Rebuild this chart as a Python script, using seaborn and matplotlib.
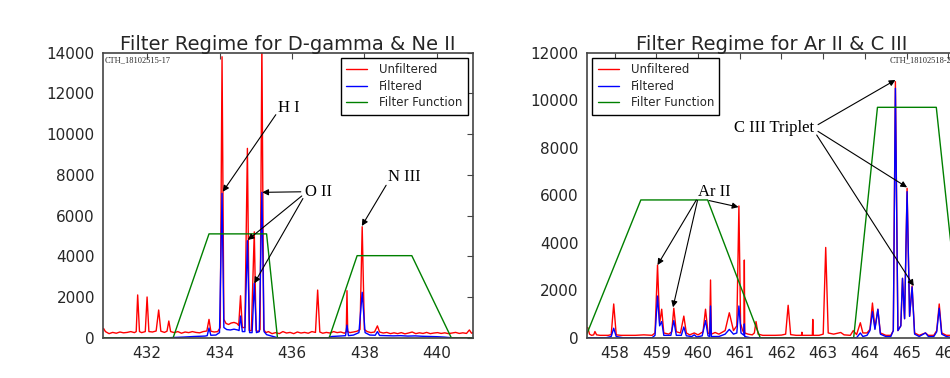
import matplotlib
matplotlib.use("Agg")
import matplotlib.pyplot as plt
import seaborn as sns

# ---------------- data ----------------
# Left panel: D-gamma & Ne II
left_unf_x = [430.80, 430.85, 430.95, 431.05, 431.15, 431.25, 431.35, 431.45, 431.55, 431.65,
              431.70, 431.74, 431.79, 431.85, 431.95, 432.00, 432.05, 432.15, 432.25, 432.32,
              432.38, 432.48, 432.55, 432.60, 432.65, 432.75, 432.85, 432.95, 433.05, 433.15,
              433.25, 433.35, 433.45, 433.55, 433.65, 433.71, 433.76, 433.85, 433.95, 434.02,
              434.07, 434.12, 434.18, 434.25, 434.32, 434.40, 434.48, 434.53, 434.58, 434.63,
              434.70, 434.77, 434.82, 434.88, 434.96, 435.01, 435.07, 435.12, 435.17, 435.22,
              435.28, 435.35, 435.45, 435.55, 435.65, 435.75, 435.85, 435.95, 436.05, 436.15,
              436.25, 436.35, 436.45, 436.55, 436.65, 436.71, 436.77, 436.85, 436.95, 437.05,
              437.15, 437.25, 437.35, 437.45, 437.50, 437.52, 437.54, 437.60, 437.70, 437.80,
              437.88, 437.94, 438.00, 438.08, 438.18, 438.28, 438.36, 438.42, 438.52, 438.62,
              438.72, 438.82, 438.92, 439.02, 439.12, 439.22, 439.32, 439.42, 439.52, 439.62,
              439.72, 439.82, 439.92, 440.02, 440.12, 440.22, 440.32, 440.42, 440.52, 440.62,
              440.72, 440.82, 440.90, 440.96, 441.00]
left_unf_y = [450, 300, 200, 260, 220, 280, 240, 260, 300, 250,
              300, 2100, 300, 250, 300, 2000, 300, 280, 330, 1360,
              320, 260, 320, 820, 300, 250, 300, 220, 280, 250,
              300, 260, 240, 300, 330, 900, 320, 280, 300, 500,
              13800, 900, 700, 650, 720, 750, 700, 600, 2060, 500,
              500, 9300, 350, 350, 5200, 350, 300, 400, 14500, 400,
              250, 300, 200, 250, 200, 300, 230, 260, 200, 280,
              230, 260, 220, 300, 260, 2340, 280, 220, 260, 230,
              300, 250, 280, 220, 300, 2310, 300, 250, 280, 320,
              400, 5450, 400, 300, 250, 280, 580, 280, 230, 260,
              200, 240, 200, 250, 190, 230, 280, 200, 240, 210,
              260, 200, 230, 250, 210, 240, 200, 230, 260, 210,
              240, 210, 380, 220, 250]

left_filt_x = [430.80, 432.60, 433.00, 433.30, 433.60, 433.66, 433.71, 433.76, 433.90, 434.00,
               434.07, 434.12, 434.20, 434.30, 434.40, 434.50, 434.54, 434.58, 434.63, 434.70,
               434.77, 434.83, 434.90, 434.96, 435.02, 435.10, 435.17, 435.23, 435.30, 435.40,
               435.50, 435.60, 437.00, 437.10, 437.30, 437.48, 437.52, 437.56, 437.70, 437.85,
               437.94, 438.02, 438.15, 438.30, 438.36, 438.42, 438.60, 438.80, 439.00, 439.20,
               439.40, 439.60, 439.80, 440.00, 440.20, 440.40, 441.00]
left_filt_y = [0, 0, 30, 60, 80, 100, 475, 120, 130, 250,
               7090, 500, 400, 380, 420, 380, 350, 1065, 300, 300,
               4765, 250, 250, 2670, 250, 300, 7140, 300, 150, 100,
               50, 0, 0, 60, 80, 100, 620, 100, 130, 250,
               2230, 250, 130, 120, 300, 110, 100, 90, 100, 80,
               90, 70, 60, 50, 30, 0, 0]

left_ff_x = [430.80, 432.72, 433.71, 435.30, 435.60, 437.03, 437.80, 439.31, 440.40, 441.00]
left_ff_y = [0, 0, 5100, 5100, 0, 0, 4030, 4030, 0, 0]

# Right panel: Ar II & C III
right_unf_x = [457.30, 457.36, 457.40, 457.45, 457.50, 457.53, 457.57, 457.65, 457.75, 457.85,
               457.92, 457.98, 458.04, 458.15, 458.30, 458.50, 458.70, 458.90, 458.97, 459.03,
               459.08, 459.13, 459.18, 459.30, 459.37, 459.42, 459.48, 459.58, 459.66, 459.72,
               459.80, 459.91, 460.00, 460.12, 460.18, 460.24, 460.28, 460.30, 460.32, 460.41,
               460.50, 460.65, 460.75, 460.85, 460.93, 460.98, 461.02, 461.07, 461.10, 461.11,
               461.12, 461.20, 461.30, 461.35, 461.39, 461.44, 461.55, 461.70, 461.85, 462.00,
               462.10, 462.16, 462.22, 462.35, 462.48, 462.49, 462.50, 462.60, 462.74, 462.75,
               462.76, 462.90, 463.00, 463.06, 463.12, 463.25, 463.42, 463.50, 463.65, 463.72,
               463.80, 463.89, 463.95, 464.05, 464.12, 464.18, 464.24, 464.31, 464.37, 464.50,
               464.62, 464.68, 464.73, 464.79, 464.86, 464.90, 464.95, 465.01, 465.07, 465.13,
               465.19, 465.30, 465.45, 465.52, 465.65, 465.72, 465.78, 465.84, 465.95, 466.10,
               466.25]
right_unf_y = [450, 420, 150, 100, 120, 260, 120, 100, 100, 100,
               130, 1420, 120, 100, 100, 100, 120, 100, 200, 3060,
               600, 1200, 200, 150, 250, 1240, 250, 200, 910, 200,
               120, 200, 120, 250, 1200, 200, 150, 2430, 150, 220,
               150, 300, 1050, 300, 500, 5545, 600, 300, 200, 3270,
               200, 150, 120, 200, 680, 150, 100, 100, 100, 110,
               150, 1365, 130, 100, 100, 230, 100, 100, 100, 770,
               100, 100, 150, 3800, 200, 150, 220, 120, 100, 300,
               130, 630, 200, 200, 350, 1460, 400, 1200, 200, 100,
               100, 300, 10780, 300, 500, 2500, 800, 6290, 900, 2180,
               200, 100, 200, 100, 100, 300, 1420, 200, 100, 100,
               100]

right_filt_x = [457.30, 457.80, 457.92, 457.98, 458.04, 458.20, 458.90, 458.97, 459.03, 459.08,
                459.13, 459.18, 459.35, 459.42, 459.48, 459.60, 459.66, 459.72, 459.85, 459.91,
                459.97, 460.10, 460.18, 460.24, 460.28, 460.30, 460.32, 460.50, 460.65, 460.75,
                460.85, 460.93, 460.98, 461.03, 461.10, 461.11, 461.12, 461.25, 463.80, 463.89,
                463.95, 464.05, 464.12, 464.18, 464.24, 464.31, 464.37, 464.50, 464.62, 464.68,
                464.73, 464.79, 464.86, 464.90, 464.95, 465.01, 465.07, 465.13, 465.19, 465.30,
                465.45, 465.52, 465.65, 465.72, 465.78, 465.84, 465.95, 466.10, 466.25]
right_filt_y = [0, 0, 50, 400, 50, 0, 0, 100, 1755, 500,
                680, 100, 100, 720, 100, 100, 450, 80, 50, 120,
                30, 80, 720, 80, 50, 1335, 50, 50, 150, 350,
                150, 200, 1335, 200, 100, 580, 50, 0, 0, 200,
                50, 100, 300, 1095, 350, 1195, 150, 50, 50, 300,
                10500, 300, 500, 2500, 800, 6150, 900, 2140, 150, 50,
                200, 50, 50, 250, 1240, 150, 50, 0, 0]

right_ff_x = [457.30, 458.63, 460.23, 461.49, 463.73, 464.30, 465.71, 466.30]
right_ff_y = [0, 5800, 5800, 0, 0, 9700, 9700, 0]

left_title = "Filter Regime for D-gamma & Ne II"
right_title = "Filter Regime for Ar II & C III"
left_tag = "CTH_18102515-17"
right_tag = "CTH_18102518-20"
series_labels = ["Unfiltered", "Filtered", "Filter Function"]
left_yticks = [0, 2000, 4000, 6000, 8000, 10000, 12000, 14000]
left_xticks = [432, 434, 436, 438, 440]
right_yticks = [0, 2000, 4000, 6000, 8000, 10000, 12000]
right_xticks = [458, 459, 460, 461, 462, 463, 464, 465, 466]

# annotations: (text, text position, [(target, arrow start on text box)])
left_notes = [
    ("H I", (435.62, 11280), [((434.09, 7170), (0.0, 0.3))]),
    ("O II", (436.36, 7170), [((435.18, 7140), (0.0, 0.5)),
                              ((434.78, 4800), (0.0, 0.4)),
                              ((434.96, 2670), (0.0, 0.3))]),
    ("N III", (438.66, 7900), [((437.93, 5490), (0.0, 0.2))]),
]
right_notes = [
    ("Ar II", (460.01, 6150), [((459.03, 3060), (0.0, 0.2)),
                               ((459.40, 1280), (0.0, 0.2)),
                               ((460.97, 5500), (0.2, 0.0))]),
    ("C III Triplet", (460.87, 8816), [((464.73, 10850), (1.0, 0.6)),
                                       ((465.01, 6330), (1.0, 0.45)),
                                       ((465.17, 2177), (1.0, 0.3))]),
]

# ---------------- styling ----------------
sns.set_style("white")
plt.rcParams["font.family"] = ["DejaVu Sans"]
plt.rcParams["xtick.direction"] = "in"
plt.rcParams["ytick.direction"] = "in"

fig = plt.figure(figsize=(9.5, 3.78), dpi=100)
ax1 = fig.add_axes([0.1087, 0.1066, 0.3892, 0.754])
ax2 = fig.add_axes([0.6179, 0.1066, 0.3892, 0.754])

spine_col = "#444444"


def draw(ax, ux, uy, fx, fy, gx, gy, xlim, ylim, xt, yt, title, tag, tag_right, legend_loc, notes):
    sns.lineplot(x=ux, y=uy, ax=ax, color="red", lw=1.0, estimator=None, sort=False,
                 label=series_labels[0])
    sns.lineplot(x=fx, y=fy, ax=ax, color="blue", lw=1.0, estimator=None, sort=False,
                 label=series_labels[1])
    sns.lineplot(x=gx, y=gy, ax=ax, color="green", lw=1.0, estimator=None, sort=False,
                 label=series_labels[2])
    ax.set_xlim(*xlim)
    ax.set_ylim(*ylim)
    ax.set_xticks(xt)
    ax.set_yticks(yt)
    ax.set_xlabel("")
    ax.set_ylabel("")
    ax.tick_params(axis="both", which="major", direction="in", length=4, width=0.8,
                   color=spine_col, labelsize=11, top=True, right=True, pad=6)
    for s in ax.spines.values():
        s.set_visible(True)
        s.set_color(spine_col)
        s.set_linewidth(1.2)
    ax.set_title(title, fontsize=14, pad=2)
    if tag_right:
        ax.text(0.997, 0.988, tag, transform=ax.transAxes, ha="right", va="top",
                fontsize=6, family=["Liberation Serif"])
    else:
        ax.text(0.004, 0.988, tag, transform=ax.transAxes, ha="left", va="top",
                fontsize=6, family=["Liberation Serif"])
    leg = ax.legend(loc=legend_loc, fontsize=8.5, frameon=True, fancybox=False,
                    framealpha=1, edgecolor="black", borderaxespad=0.45,
                    labelspacing=0.3, handlelength=1.8, handletextpad=1.0, borderpad=0.45)
    leg.get_frame().set_linewidth(1.0)
    for txt, pos, targets in notes:
        for i, (tgt, rp) in enumerate(targets):
            ax.annotate(txt, xy=tgt, xytext=pos, textcoords="data", ha="left", va="center",
                        fontsize=12, family=["Liberation Serif"],
                        color="black" if i == 0 else (0, 0, 0, 0),
                        arrowprops=dict(arrowstyle="-|>", color="black", lw=0.8,
                                        mutation_scale=9, shrinkA=3, shrinkB=0,
                                        relpos=rp, patchA=None))


draw(ax1, left_unf_x, left_unf_y, left_filt_x, left_filt_y, left_ff_x, left_ff_y,
     (430.79, 441.0), (0, 14000), left_xticks, left_yticks, left_title, left_tag, False,
     "upper right", left_notes)
draw(ax2, right_unf_x, right_unf_y, right_filt_x, right_filt_y, right_ff_x, right_ff_y,
     (457.34, 466.2), (0, 12000), right_xticks, right_yticks, right_title, right_tag, True,
     "upper left", right_notes)

fig.savefig("out.png", dpi=100)
